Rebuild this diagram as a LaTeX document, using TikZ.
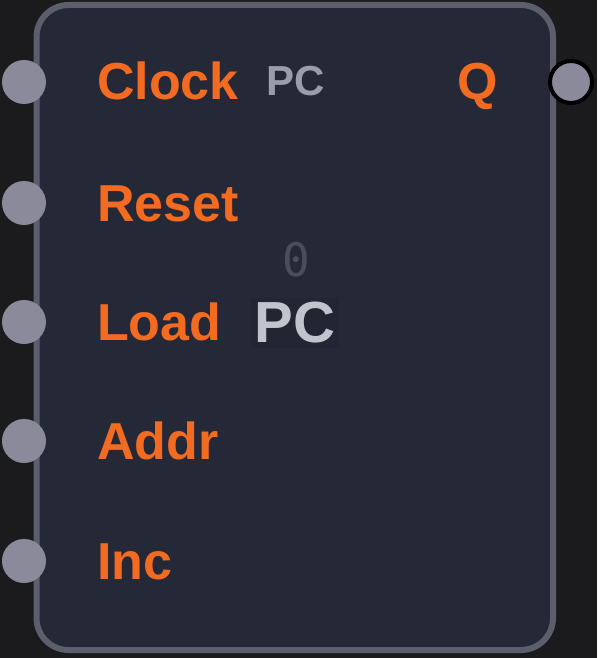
\documentclass[tikz,border=0pt]{standalone}
\usepackage{fontspec}
\setmainfont{Liberation Sans}
\setmonofont{DejaVu Sans Mono}
\usepackage{tikz}
\usetikzlibrary{positioning}

\definecolor{bgdark}{HTML}{1B1B1D}
\definecolor{boxfill}{HTML}{252836}
\definecolor{boxline}{HTML}{5B5E6B}
\definecolor{portgray}{HTML}{8A8A9A}
\definecolor{pinorange}{HTML}{F26B21}
\definecolor{namegray}{HTML}{9A9CAB}
\definecolor{valgray}{HTML}{4A4D5A}

\begin{document}
\begin{tikzpicture}[x=1pt,y=-1pt,
    port/.style={circle,fill=portgray,inner sep=0pt,minimum size=44pt},
    outport/.style={port,draw=black,line width=4pt,minimum size=42pt},
    pin/.style={anchor=base west,text=pinorange,font=\fontsize{52}{58}\selectfont\bfseries,inner sep=0pt}]
            % Background:
            \fill[bgdark] (0,0) rectangle (597,658);
            \useasboundingbox (0,0) rectangle (597,658);
            % Body of the block:
            \draw[boxline, fill=boxfill, line width=6pt, rounded corners=32pt] (36.5,5) rectangle (553,650);

            % inputs
            \foreach \name/\lbl/\y in {clk/Clock/82, rst/Reset/203, ld/Load/322, addr/Addr/441, inc/Inc/561}
            {
                \node[port] (p\name) at (24,\y) {};
                \node[pin] (l\name) at (97,\y+18) {\lbl};
            }

            % output
            \node[outport] (pq) at (571,82) {};
            \node[pin, anchor=base east] (lq) at (498,100) {Q};

            % title and value
            \node[anchor=base west, text=namegray, inner sep=0pt, font=\fontsize{42}{48}\selectfont\bfseries] (title) at (266,96) {PC};
            \node[text=valgray, inner sep=0pt, font=\fontsize{46}{50}\selectfont\ttfamily] (val) at (296,260) {0};
            \node[text=namegray!60!white, fill=boxfill!92!black, inner sep=4pt, font=\fontsize{58}{64}\selectfont\bfseries] (name) at (295,323) {PC};
        \end{tikzpicture}
\end{document}
